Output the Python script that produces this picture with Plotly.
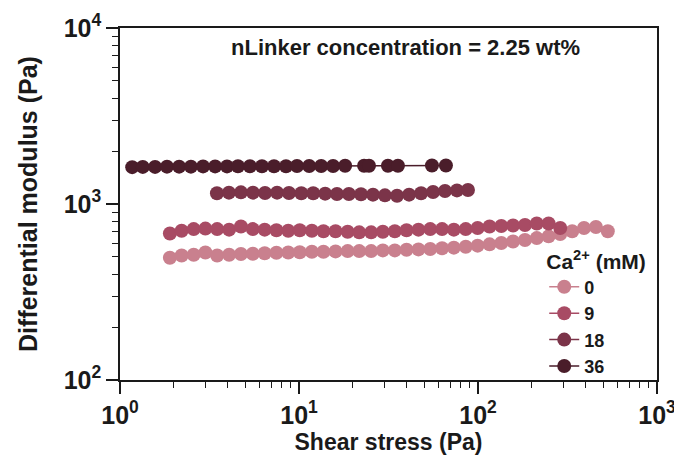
import plotly.graph_objects as go

# ---- data ----
stress_ramp = [1.90, 2.21, 2.58, 3.00, 3.49, 4.07, 4.74, 5.52, 6.43, 7.48,
               8.71, 10.1, 11.8, 13.7, 16.0, 18.7, 21.7, 25.3, 29.4, 34.3,
               39.9, 46.5, 54.1, 63.0, 73.3, 85.4, 99.5, 116, 135, 157,
               183, 213, 248, 288, 336, 391, 456, 531]

ca0_stress = stress_ramp[:38]
ca0_modulus = [495, 510, 515, 530, 510, 515, 520, 522, 525, 528,
               530, 532, 535, 535, 538, 540, 540, 540, 545, 545,
               550, 552, 555, 560, 565, 572, 580, 590, 600, 612,
               625, 640, 655, 675, 700, 730, 740, 700]

ca9_stress = stress_ramp[:34]
ca9_modulus = [680, 705, 720, 725, 720, 715, 745, 720, 715, 710,
               705, 710, 705, 700, 700, 695, 690, 690, 695, 700,
               710, 715, 720, 720, 715, 720, 730, 745, 750, 755,
               760, 775, 775, 730]

ca18_stress = [3.48, 4.06, 4.74, 5.53, 6.46, 7.54, 8.79, 10.3, 12.0, 14.0,
               16.3, 19.0, 22.2, 25.9, 30.2, 35.3, 41.2, 48.1, 56.1, 65.4,
               76.3, 87.9]
ca18_modulus = [1150, 1160, 1165, 1160, 1155, 1160, 1155, 1150, 1150, 1145,
                1140, 1140, 1135, 1130, 1120, 1115, 1130, 1150, 1170, 1185,
                1195, 1200]

ca36_stress = [1.17, 1.34, 1.57, 1.83, 2.14, 2.49, 2.91, 3.40, 3.96, 4.56,
               5.32, 6.21, 7.25, 8.46, 9.75, 11.4, 13.3, 15.5, 18.1, 23.1,
               24.6, 31.4, 35.7, 55.3, 66.2]
ca36_modulus = [1620, 1625, 1625, 1630, 1630, 1630, 1635, 1635, 1635, 1640,
                1640, 1640, 1640, 1640, 1645, 1645, 1645, 1645, 1650, 1650,
                1650, 1650, 1650, 1655, 1655]

series_names = ["0", "9", "18", "36"]
series_x = [ca0_stress, ca9_stress, ca18_stress, ca36_stress]
series_y = [ca0_modulus, ca9_modulus, ca18_modulus, ca36_modulus]
colors = ["#c9808e", "#a84b64", "#7b3449", "#4a1d2a"]

x_tickvals = [1, 10, 100, 1000]
x_ticktext = ["10<sup>0</sup>", "10<sup>1</sup>", "10<sup>2</sup>", "10<sup>3</sup>"]
y_tickvals = [100, 1000, 10000]
y_ticktext = ["10<sup>2</sup>", "10<sup>3</sup>", "10<sup>4</sup>"]
x_minor = [2, 3, 4, 5, 6, 7, 8, 9, 20, 30, 40, 50, 60, 70, 80, 90,
           200, 300, 400, 500, 600, 700, 800, 900]
y_minor = [200, 300, 400, 500, 600, 700, 800, 900,
           2000, 3000, 4000, 5000, 6000, 7000, 8000, 9000]

FONT = "Liberation Sans, Arial, sans-serif"
INK = "#1a1a1a"

fig = go.Figure()
for name, xs, ys, c in zip(series_names, series_x, series_y, colors):
    fig.add_trace(go.Scatter(
        x=xs, y=ys, name=name, mode="lines+markers",
        line=dict(color=c, width=1.5),
        marker=dict(color=c, size=14, line=dict(width=0)),
    ))

axis_common = dict(
    showline=True, linecolor=INK, linewidth=1.6, mirror=True,
    showgrid=False, zeroline=False, automargin=False,
    ticks="outside", ticklen=12, tickwidth=1.6, tickcolor=INK,
    tickfont=dict(family=FONT, size=25, color=INK, weight="bold"),
)

fig.update_xaxes(
    type="log", range=[0, 3], tickmode="array",
    tickvals=x_tickvals, ticktext=x_ticktext,
    minor=dict(tickmode="array", tickvals=x_minor, ticks="outside",
               ticklen=6, tickwidth=1.4, tickcolor=INK, showgrid=False),
    title=dict(text="Shear stress (Pa)", standoff=6,
               font=dict(family=FONT, size=23, color=INK, weight="bold")),
    **axis_common,
)
fig.update_yaxes(
    type="log", range=[2, 4], tickmode="array",
    tickvals=y_tickvals, ticktext=y_ticktext,
    minor=dict(tickmode="array", tickvals=y_minor, ticks="outside",
               ticklen=6, tickwidth=1.4, tickcolor=INK, showgrid=False),
    title=dict(text="Differential modulus (Pa)", standoff=19,
               font=dict(family=FONT, size=25, color=INK, weight="bold")),
    **axis_common,
)

fig.add_annotation(
    text="nLinker concentration = 2.25 wt%", xref="paper", yref="paper",
    x=0.531, y=0.945, showarrow=False, xanchor="center", yanchor="middle",
    font=dict(family=FONT, size=22, color=INK, weight="bold"),
)

# page body adds an 8 px offset, so the figure is sized to fit the window
fig.update_layout(
    width=674, height=463,
    margin=dict(l=112, r=25, t=20, b=91, autoexpand=False),
    paper_bgcolor="white", plot_bgcolor="white",
    showlegend=True,
    legend=dict(
        title=dict(text="Ca<sup>2+</sup> (mM)",
                   font=dict(family=FONT, size=21, color=INK, weight="bold")),
        font=dict(family=FONT, size=18, color=INK, weight="bold"),
        x=0.79, y=0.394, xanchor="left", yanchor="top",
        bgcolor="rgba(0,0,0,0)", tracegroupgap=0,
    ),
)

fig.write_html("out.html")
